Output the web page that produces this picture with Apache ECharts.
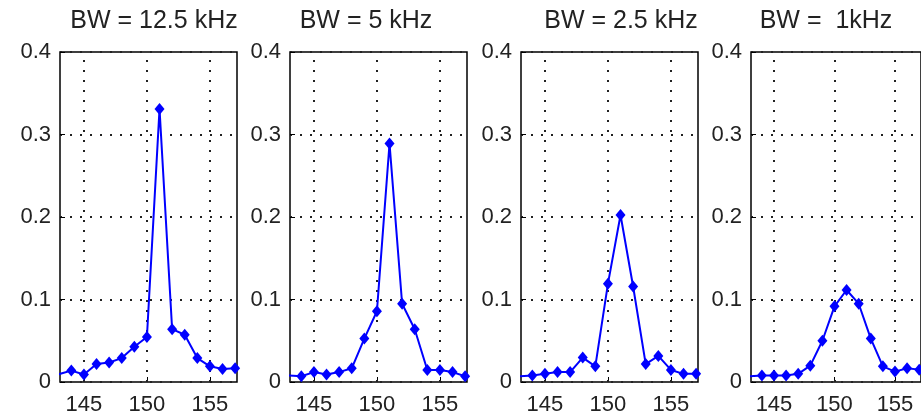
<!DOCTYPE html>
<html>
<head>
<meta charset="utf-8">
<script src="https://cdn.jsdelivr.net/npm/echarts@6/dist/echarts.min.js"></script>
<style>
html,body{margin:0;padding:0;background:#fff;}
#c{width:921px;height:419px;}
</style>
</head>
<body>
<div id="c"></div>
<script>
const freq = [143,144,145,146,147,148,149,150,151,152,153,154,155,156,157];
const bw125 = [0.0095,0.0138,0.009,0.0217,0.0237,0.029,0.0427,0.0545,0.331,0.064,0.0573,0.029,0.019,0.0158,0.0166];
const bw5   = [0.008,0.007,0.012,0.009,0.012,0.0166,0.0526,0.0858,0.289,0.0949,0.064,0.0146,0.0146,0.012,0.007];
const bw25  = [0.007,0.008,0.010,0.012,0.012,0.0296,0.019,0.119,0.2024,0.1158,0.0217,0.0316,0.0146,0.0099,0.0099];
const bw1   = [0.007,0.008,0.008,0.008,0.0099,0.0198,0.050,0.0917,0.1115,0.0949,0.0526,0.019,0.0126,0.0166,0.015];
const titles = ['BW = 12.5 kHz','BW = 5 kHz','BW = 2.5 kHz','BW =  1kHz'];
const xTicks = [145,150,155];
const yTicks = [0,0.1,0.2,0.3,0.4];
const seriesData = [bw125,bw5,bw25,bw1];

const gridLefts = [60,290,521,751];
const titleCenters = [154,366,621,826];
const FONT = 'Liberation Sans, Arial, sans-serif';
const dotted = {color:'#222', width:2, type:[2,8]};

const chart = echarts.init(document.getElementById('c'), null, {renderer:'canvas'});
const grids = [], xAxes = [], yAxes = [], series = [], graphics = [];
gridLefts.forEach((l,i)=>{
  grids.push({left:l, top:52, width:177, height:330, show:true, borderColor:'#000', borderWidth:1.5, backgroundColor:'#fff', containLabel:false});
  xAxes.push({type:'value', gridIndex:i, min:143.1, max:157.15,
    axisLine:{show:false},
    axisTick:{show:true, inside:true, length:5, lineStyle:{color:'#000'}, customValues:xTicks},
    axisLabel:{color:'#222', fontSize:22, fontFamily:FONT, margin:12, customValues:xTicks,
      formatter:v=>String(v)},
    splitLine:{show:false}
  });
  yAxes.push({type:'value', gridIndex:i, min:0, max:0.4, interval:0.1,
    axisLine:{show:false}, axisTick:{show:true, inside:true, length:5, lineStyle:{color:'#000'}},
    axisLabel:{color:'#222', fontSize:22, fontFamily:FONT, margin:9, formatter:v=>{ if(Math.abs(v)<1e-9) return '0'; return v.toFixed(1);} },
    splitLine:{show:true, lineStyle:dotted}
  });
  series.push({type:'line', xAxisIndex:i, yAxisIndex:i, clip:true, z:3,
    data: freq.map((f,k)=>[f, seriesData[i][k]]),
    symbol:'diamond', symbolSize:[10,12], showAllSymbol:true,
    lineStyle:{color:'#0000ff', width:2}, itemStyle:{color:'#0000ff'}, animation:false,
    markLine:{silent:true, symbol:['none','none'], label:{show:false}, lineStyle:dotted, animation:false, z:1,
      emphasis:{disabled:true},
      data: xTicks.map(v=>({xAxis:v}))}
  });
  graphics.push({type:'text', x:titleCenters[i], y:21,
    style:{text:titles[i], textAlign:'center', textVerticalAlign:'middle', font:'25px '+FONT, fill:'#222'}});
});

chart.setOption({
  animation:false,
  grid:grids, xAxis:xAxes, yAxis:yAxes, series:series, graphic:graphics
});
</script>
</body>
</html>
